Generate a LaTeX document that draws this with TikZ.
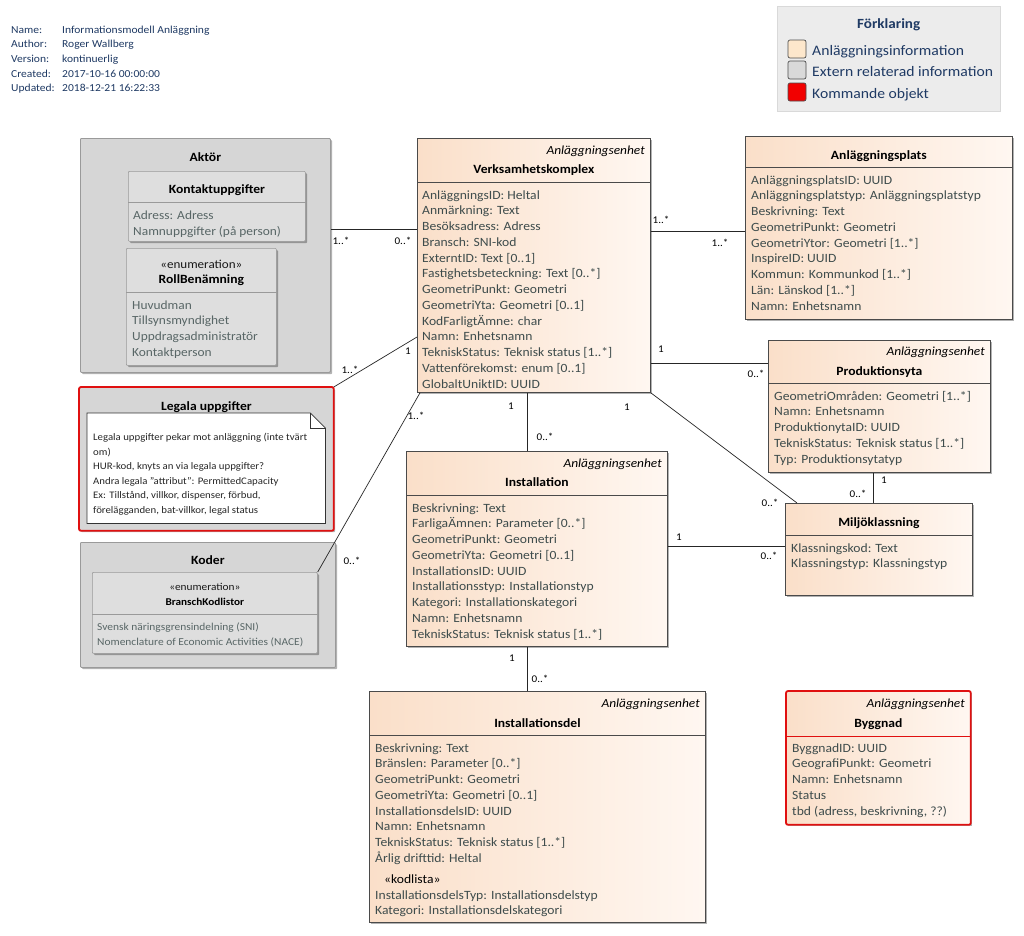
\documentclass[tikz,border=0pt]{standalone}
\usepackage{fontspec}
\setmainfont{Carlito}[FakeStretch=1.08]
\usetikzlibrary{shadows,calc}
\definecolor{peachL}{HTML}{FADFC9}
\definecolor{peachR}{HTML}{FFF7F1}
\definecolor{boxline}{HTML}{4A4A4A}
\definecolor{grayfill}{HTML}{D6D6D6}
\definecolor{grayin}{HTML}{DEDEDE}
\definecolor{grayline}{HTML}{9A9A9A}
\definecolor{attrtext}{HTML}{3E4C4C}
\definecolor{graytext}{HTML}{586666}
\definecolor{navy}{HTML}{1F3A64}
\definecolor{legfill}{HTML}{ECECEC}
\definecolor{redline}{HTML}{E01010}
\definecolor{swpeach}{HTML}{FDE7CC}
\tikzset{
  shad/.style={drop shadow={shadow xshift=1.8pt,shadow yshift=-1.8pt,opacity=0.3,fill=black}},
  ubox/.style={draw=boxline, line width=0.8pt, left color=peachL, right color=peachR, anchor=north west, inner sep=0, shad},
  gbox/.style={draw=grayline, line width=0.8pt, fill=grayfill, anchor=north west, inner sep=0, rounded corners=1pt, shad},
  gin/.style={draw=grayline, line width=0.7pt, fill=grayin, anchor=north west, inner sep=0, rounded corners=1pt, shad},
  sepline/.style={draw=boxline, line width=0.8pt},
  gsep/.style={draw=grayline, line width=0.7pt},
  attr/.style={font=\fontsize{12.6}{14}\selectfont, text=attrtext, inner sep=0},
  gattr/.style={font=\fontsize{12.4}{14}\selectfont, text=graytext, inner sep=0},
  sattr/.style={font=\fontsize{10.6}{13}\selectfont, text=graytext, inner sep=0},
  nattr/.style={font=\fontsize{10}{12}\selectfont, text=black!85, inner sep=0},
  title/.style={font=\bfseries\fontsize{12.6}{14}\selectfont, text=black, inner sep=0, anchor=base},
  stitle/.style={font=\bfseries\fontsize{10.4}{12}\selectfont, text=black, inner sep=0, anchor=base},
  stereo/.style={font=\itshape\fontsize{12.4}{14}\selectfont, text=black, inner sep=0, anchor=base east},
  enum/.style={font=\fontsize{12.1}{14}\selectfont, text=black!90, inner sep=0, anchor=base},
  conn/.style={draw=black!85, line width=0.7pt},
  lbl/.style={font=\fontsize{10.3}{12}\selectfont, text=black, inner sep=0},
  hdr/.style={font=\fontsize{10.7}{12}\selectfont, text=navy, inner sep=0, anchor=base west},
  legt/.style={font=\fontsize{14.5}{16}\selectfont, text=navy, inner sep=0, anchor=base west},
  swatch/.style={draw=black!70, line width=0.7pt, rounded corners=2pt, minimum size=18pt, inner sep=0},
}
\newcommand\umlbox[6]{\node[#6, minimum width=#4pt, minimum height=#5pt] (#1) at (#2,#3) {};}
\newcommand\attrs[6]{\foreach \t [count=\i from 0] in {#6}{\node[#2, anchor=base west] (#1\i) at (#3,{#4+#5*\i}) {\t};}}
\begin{document}
\begin{tikzpicture}[x=1pt,y=-1pt]
\useasboundingbox (0,0) rectangle (1024,935);
\fill[white] (0,0) rectangle (1024,935);

% header
\attrs{hk}{hdr}{11}{33}{14.7}{Name:,Author:,Version:,Created:,Updated:}
\attrs{hv}{hdr}{62}{33}{14.7}{Informationsmodell Anläggning,Roger Wallberg,kontinuerlig,2017-10-16 00:00:00,2018-12-21 16:22:33}

% legend
\node[draw=black!15, fill=legfill, anchor=north west, minimum width=223pt, minimum height=105pt, inner sep=0] (leg) at (777,6) {};
\node[font=\bfseries\fontsize{14}{16}\selectfont, text=navy, inner sep=0, anchor=base] (legT) at (leg.north |- 0,28) {Förklaring};
\node[swatch, fill=swpeach] (sw1) at (797,49) {};
\node[swatch, fill=black!15] (sw2) at (797,70) {};
\node[swatch, fill=red!95!black] (sw3) at (797,92) {};
\node[legt] (lt1) at (812,55) {Anläggningsinformation};
\node[legt] (lt2) at (812,76) {Extern relaterad information};
\node[legt] (lt3) at (812,98) {Kommande objekt};

% Aktor
\umlbox{akt}{80}{138}{250}{234}{gbox}
\node[title] (aktT) at (akt.north |- 0,161) {Aktör};
\umlbox{ku}{128}{171}{177}{70}{gin}
\draw[gsep] (ku.west |- 0,202) -- (ku.east |- 0,202);
\node[title] (kuT) at (ku.north |- 0,193) {Kontaktuppgifter};
\attrs{kua}{gattr}{133}{219}{16}{Adress: Adress,Namnuppgifter (på person)}
\umlbox{rb}{126}{248}{150}{117}{gin}
\draw[gsep] (rb.west |- 0,292) -- (rb.east |- 0,292);
\node[enum] (rbS) at (rb.north |- 0,268) {«enumeration»};
\node[title] (rbT) at (rb.north |- 0,283) {RollBenämning};
\attrs{rba}{gattr}{132}{309}{15.9}{Huvudman,Tillsynsmyndighet,Uppdragsadministratör,Kontaktperson}

% Legala uppgifter
\umlbox{lu}{79}{387}{254}{143}{gbox}
\draw[redline, line width=1.8pt, rounded corners=2pt] (lu.north west) rectangle (lu.south east);
\node[title] (luT) at (lu.north |- 0,410) {Legala uppgifter};
\node[anchor=north west, minimum width=238pt, minimum height=110pt, inner sep=0] (note) at (87,413) {};
\draw[draw=black!80, fill=white, line width=0.7pt] (note.north west) -- ($(note.north east)+(-15,0)$) -- ($(note.north east)+(0,15)$) -- (note.south east) -- (note.south west) -- cycle;
\draw[draw=black!80, line width=0.7pt] ($(note.north east)+(-15,0)$) -- ($(note.north east)+(-15,15)$) -- ($(note.north east)+(0,15)$);
\attrs{nt}{nattr}{93}{440.5}{14.6}{Legala uppgifter pekar mot anläggning (inte tvärt,om),{HUR-kod, knyts an via legala uppgifter?},Andra legala "attribut":  PermittedCapacity,{Ex: Tillstånd, villkor, dispenser, förbud,},{förelägganden, bat-villkor, legal status}}

% Koder
\umlbox{kod}{80}{542}{255}{125}{gbox}
\node[title] (kodT) at (kod.north |- 0,564) {Koder};
\umlbox{bkl}{92}{572}{225}{81}{gin}
\draw[gsep] (bkl.west |- 0,614) -- (bkl.east |- 0,614);
\node[enum, font=\fontsize{10.5}{13}\selectfont] (bklS) at (bkl.north |- 0,590) {«enumeration»};
\node[stitle] (bklT) at (bkl.north |- 0,605) {BranschKodlistor};
\attrs{bkla}{sattr}{97}{630}{15}{Svensk näringsgrensindelning (SNI),Nomenclature of Economic Activities (NACE)}

% Verksamhetskomplex
\umlbox{vk}{417}{138}{233}{254}{ubox}
\draw[sepline] (vk.west |- 0,182) -- (vk.east |- 0,182);
\node[stereo] (vkS) at (645,154) {Anläggningsenhet};
\node[title] (vkT) at (vk.north |- 0,173) {Verksamhetskomplex};
\attrs{vka}{attr}{422}{199}{15.75}{AnläggningsID: Heltal,Anmärkning: Text,Besöksadress: Adress,Bransch: SNI-kod,ExterntID: Text [0..1],Fastighetsbeteckning: Text [0..*],GeometriPunkt: Geometri,GeometriYta: Geometri [0..1],KodFarligtÄmne: char,Namn: Enhetsnamn,TekniskStatus: Teknisk status [1..*],Vattenförekomst: enum [0..1],GlobaltUniktID: UUID}

% Anlaggningsplats
\umlbox{ap}{745}{136}{267}{183}{ubox}
\draw[sepline] (ap.west |- 0,167) -- (ap.east |- 0,167);
\node[title] (apT) at (ap.north |- 0,159) {Anläggningsplats};
\attrs{apa}{attr}{751}{184}{15.75}{AnläggningsplatsID: UUID,Anläggningsplatstyp: Anläggningsplatstyp,Beskrivning: Text,GeometriPunkt: Geometri,GeometriYtor: Geometri [1..*],InspireID: UUID,Kommun: Kommunkod [1..*],Län: Länskod [1..*],Namn: Enhetsnamn}

% Produktionsyta
\umlbox{py}{768}{340}{222}{132}{ubox}
\draw[sepline] (py.west |- 0,383) -- (py.east |- 0,383);
\node[stereo] (pyS) at (985,355) {Anläggningsenhet};
\node[title] (pyT) at (py.north |- 0,375) {Produktionsyta};
\attrs{pya}{attr}{774}{400}{15.75}{GeometriOmråden: Geometri [1..*],Namn: Enhetsnamn,ProduktionytaID: UUID,TekniskStatus: Teknisk status [1..*],Typ: Produktionsytatyp}

% Miljoklassning
\umlbox{mk}{785}{503}{187}{92}{ubox}
\draw[sepline] (mk.west |- 0,535) -- (mk.east |- 0,535);
\node[title] (mkT) at (mk.north |- 0,526) {Miljöklassning};
\attrs{mka}{attr}{791}{552}{15.75}{Klassningskod: Text,Klassningstyp: Klassningstyp}

% Installation
\umlbox{in}{406}{451}{261}{195}{ubox}
\draw[sepline] (in.west |- 0,495) -- (in.east |- 0,495);
\node[stereo] (inS) at (662,467) {Anläggningsenhet};
\node[title] (inT) at (in.north |- 0,486) {Installation};
\attrs{ina}{attr}{412}{512}{15.75}{Beskrivning: Text,FarligaÄmnen: Parameter [0..*],GeometriPunkt: Geometri,GeometriYta: Geometri [0..1],InstallationsID: UUID,Installationsstyp: Installationstyp,Kategori: Installationskategori,Namn: Enhetsnamn,TekniskStatus: Teknisk status [1..*]}

% Installationsdel
\umlbox{id}{369}{691}{336}{231}{ubox}
\draw[sepline] (id.west |- 0,735) -- (id.east |- 0,735);
\node[stereo] (idS) at (700,707) {Anläggningsenhet};
\node[title] (idT) at (id.north |- 0,727) {Installationsdel};
\attrs{ida}{attr}{375}{752}{15.75}{Beskrivning: Text,Bränslen: Parameter [0..*],GeometriPunkt: Geometri,GeometriYta: Geometri [0..1],InstallationsdelsID: UUID,Namn: Enhetsnamn,TekniskStatus: Teknisk status [1..*],Årlig drifttid: Heltal}
\node[attr, text=black, anchor=base west] (idK) at (384,883) {«kodlista»};
\attrs{idb}{attr}{375}{899}{15.75}{InstallationsdelsTyp: Installationsdelstyp,Kategori: Installationsdelskategori}

% Byggnad
\umlbox{by}{786}{691}{184}{133}{ubox}
\draw[redline, line width=0.9pt] (by.west |- 0,736) -- (by.east |- 0,736);
\draw[redline, line width=1.8pt, rounded corners=2pt] (by.north west) rectangle (by.south east);
\node[stereo] (byS) at (965,707) {Anläggningsenhet};
\node[title] (byT) at (by.north |- 0,727) {Byggnad};
\attrs{bya}{attr}{792}{752}{15.75}{ByggnadID: UUID,GeografiPunkt: Geometri,Namn: Enhetsnamn,Status,{tbd (adress, beskrivning, ??)}}

% connectors
\draw[conn] (akt.east |- 0,229) -- (vk.west |- 0,229);
\draw[conn] (lu.north east) -- (vk.west |- 0,337);
\draw[conn] (bkl.north east) -- ($(vk.south west)+(3,0)$);
\draw[conn] (vk.east |- 0,231) -- (ap.west |- 0,231);
\draw[conn] (vk.east |- 0,363) -- (py.west |- 0,363);
\draw[conn] (vk.south -| 527,0) -- (in.north -| 527,0);
\draw[conn] (vk.south east) -- (mk.north west -| 797,0);
\draw[conn] (py.south -| 873,0) -- (mk.north -| 873,0);
\draw[conn] (in.east |- 0,546) -- (mk.west |- 0,546);
\draw[conn] (in.south -| 527,0) -- (id.north -| 527,0);

% multiplicities
\node[lbl] (m1) at (341,241) {1..*};
\node[lbl] (m2) at (403,241) {0..*};
\node[lbl] (m3) at (350,370) {1..*};
\node[lbl] (m4) at (408,351) {1};
\node[lbl] (m5) at (416,416) {1..*};
\node[lbl] (m6) at (352,561) {0..*};
\node[lbl] (m7) at (661,220) {1..*};
\node[lbl] (m8) at (720,243) {1..*};
\node[lbl] (m9) at (661,349) {1};
\node[lbl] (m10) at (756,374) {0..*};
\node[lbl] (m11) at (511,406) {1};
\node[lbl] (m12) at (545,437) {0..*};
\node[lbl] (m13) at (627,407) {1};
\node[lbl] (m14) at (770,503) {0..*};
\node[lbl] (m15) at (884,480) {1};
\node[lbl] (m16) at (858,494) {0..*};
\node[lbl] (m17) at (679,537) {1};
\node[lbl] (m18) at (769,556) {0..*};
\node[lbl] (m19) at (512,658) {1};
\node[lbl] (m20) at (540,679) {0..*};
\end{tikzpicture}
\end{document}
